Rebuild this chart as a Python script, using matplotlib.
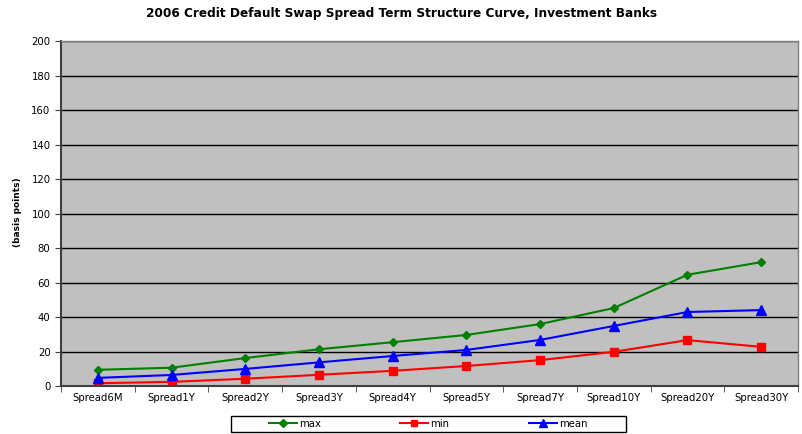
import numpy as np
import matplotlib.pyplot as plt
from matplotlib.patches import Rectangle
from matplotlib.ticker import FixedLocator

plt.rcParams['font.family'] = ['DejaVu Sans']

categories = ['Spread6M', 'Spread1Y', 'Spread2Y', 'Spread3Y', 'Spread4Y',
              'Spread5Y', 'Spread7Y', 'Spread10Y', 'Spread20Y', 'Spread30Y']
max_vals = [9.4, 10.6, 16.2, 21.3, 25.4, 29.6, 35.9, 45.2, 64.5, 71.8]
min_vals = [1.6, 2.4, 4.2, 6.5, 8.8, 11.6, 15.0, 19.8, 26.6, 22.7]
mean_vals = [4.7, 6.4, 9.9, 13.7, 17.4, 20.9, 26.7, 34.8, 42.9, 44.0]

fig = plt.figure(figsize=(8.03, 4.34), dpi=100)
ax = fig.add_axes([0.076, 0.1106, 0.9178, 0.7949])
ax.set_facecolor('#C0C0C0')

x = np.arange(len(categories))
ax.plot(x, max_vals, color='#008000', marker='D', ms=4.5, lw=1.5, label='max')
ax.plot(x, min_vals, color='#FF0000', marker='s', ms=6, lw=1.5, label='min')
ax.plot(x, mean_vals, color='#0000FF', marker='^', ms=6.5, lw=1.5, label='mean')

ax.set_xlim(-0.5, len(categories) - 0.5)
ax.set_ylim(0, 200)
ax.set_yticks(range(0, 201, 20))
ax.yaxis.grid(True, color='black', lw=1)
ax.set_axisbelow(True)

ax.set_xticks(x)
ax.set_xticklabels(categories)
ax.xaxis.set_minor_locator(FixedLocator(np.arange(-0.5, len(categories), 1)))
ax.tick_params(axis='x', which='major', length=0, labelsize=7.3, pad=5)
ax.tick_params(axis='x', which='minor', length=4, color='#404040')
ax.tick_params(axis='y', labelsize=7.3, length=4, color='#404040')

for s in ['left', 'bottom']:
    ax.spines[s].set_color('#404040')
    ax.spines[s].set_linewidth(1.5)
for s in ['top', 'right']:
    ax.spines[s].set_color('#808080')
    ax.spines[s].set_linewidth(1)

# y label placed at the left edge like the original
fig.text(0.022, 0.51, '(basis points)', rotation=90, fontsize=6.5, fontweight='bold',
         ha='center', va='center')
fig.suptitle('2006 Credit Default Swap Spread Term Structure Curve, Investment Banks',
             x=0.5, y=0.985, fontsize=8.7, fontweight='bold')

# legend box drawn separately so entries can sit in the middle
fig.patches.append(Rectangle((0.2877, 0.0046), 0.4919, 0.0369, transform=fig.transFigure,
                             fill=False, edgecolor='black', lw=1))
leg = fig.legend(loc='center', bbox_to_anchor=(0.533, 0.023), ncol=3, fontsize=7.3,
                 frameon=False, columnspacing=7.8, handlelength=2.8,
                 borderpad=0.2, handletextpad=0.2, markerscale=0.8)

fig.savefig('out.png', dpi=100)
